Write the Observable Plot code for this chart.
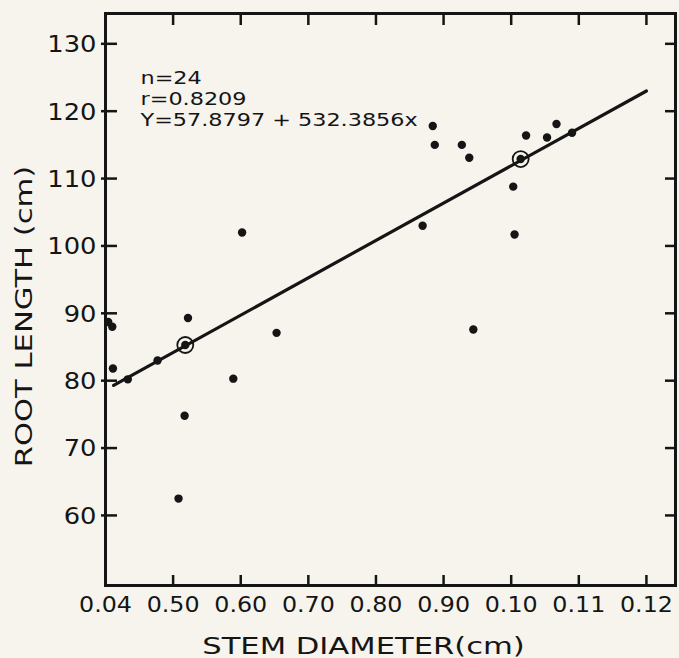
<!DOCTYPE html>
<html>
<head>
<meta charset="utf-8">
<script src="https://cdn.jsdelivr.net/npm/d3@7"></script>
<script src="https://cdn.jsdelivr.net/npm/@observablehq/plot@0.6"></script>
<style>
  html, body { margin: 0; padding: 0; background: #f6f4ed; }
  #chart svg { display: block; }
</style>
</head>
<body>
<div id="chart"></div>
<script>
// Stem diameter (cm) vs root length (cm)
const stemDiameter = [0.0404, 0.0410, 0.0411, 0.0433, 0.0477, 0.0517, 0.0508, 0.0522, 0.0589, 0.0602, 0.0653,
  0.0869, 0.0884, 0.0887, 0.0927, 0.0938, 0.0944, 0.1003, 0.1005, 0.1022, 0.1053, 0.1067, 0.1090];
const rootLength = [88.7, 88.0, 81.8, 80.2, 83.0, 74.8, 62.5, 89.3, 80.3, 102.0, 87.1,
  103.0, 117.8, 115.0, 115.0, 113.1, 87.6, 108.8, 101.7, 116.4, 116.1, 118.1, 116.8];
// circled points (on the regression line)
const circledDiameter = [0.0518, 0.1014];
const circledLength = [85.3, 112.9];
// regression line endpoints as drawn
const lineDiameter = [0.0412, 0.1200];
const lineLength = [79.3, 123.0];

const xTicks = [0.04, 0.05, 0.06, 0.07, 0.08, 0.09, 0.10, 0.11, 0.12];
const xTickLabels = ["0.04", "0.50", "0.60", "0.70", "0.80", "0.90", "0.10", "0.11", "0.12"];
const yTicks = [60, 70, 80, 90, 100, 110, 120, 130];
const statsText = ["n=24", "r=0.8209", "Y=57.8797 + 532.3856x"];
const xTitle = "STEM DIAMETER(cm)";
const yTitle = "ROOT LENGTH (cm)";

const points = stemDiameter.map((d, i) => ({x: d, y: rootLength[i]}));
const circled = circledDiameter.map((d, i) => ({x: d, y: circledLength[i]}));
const reg = lineDiameter.map((d, i) => ({x: d, y: lineLength[i]}));

const W = 679, H = 658, mL = 105, mR = 4, mT = 13, mB = 73;
const innerH = H - mT - mB, innerW = W - mL - mR;
const ink = "#151515";
const font = "DejaVu Sans, sans-serif";
const innerTicks = xTicks.slice(1);

const statMarks = statsText.map((s, i) => Plot.text([s], {frameAnchor: "top-left", dx: 35, dy: 58 + i * 21,
  textAnchor: "start", lineAnchor: "top", fontSize: 18, fill: ink}));

const chart = Plot.plot({
  width: W, height: H,
  marginLeft: mL, marginRight: mR, marginTop: mT, marginBottom: mB,
  x: {domain: [0.04, 0.1243], axis: null},
  y: {domain: [49.6, 134.5], axis: null},
  style: {background: "#f6f4ed", fontFamily: font, color: ink},
  marks: [
    Plot.frame({stroke: ink, strokeWidth: 3}),
    // bottom ticks
    Plot.ruleX(innerTicks, {x: d => d, insetTop: innerH - 10, stroke: ink, strokeWidth: 2.5}),
    // top ticks
    Plot.ruleX(innerTicks, {x: d => d, insetBottom: innerH - 12, stroke: ink, strokeWidth: 2.5}),
    // left ticks
    Plot.ruleY(yTicks, {y: d => d, insetLeft: -4, insetRight: innerW - 12, stroke: ink, strokeWidth: 2.5}),
    // right ticks
    Plot.ruleY(yTicks, {y: d => d, insetLeft: innerW - 10, stroke: ink, strokeWidth: 2.5}),
    // x tick labels
    Plot.text(xTicks, {x: d => d, text: (d, i) => xTickLabels[i], frameAnchor: "bottom", dy: 19,
      textAnchor: "middle", lineAnchor: "middle", fontSize: 22, fill: ink}),
    // y tick labels
    Plot.text(yTicks, {y: d => d, text: d => String(d), frameAnchor: "left", dx: -9, dy: 1,
      textAnchor: "end", lineAnchor: "middle", fontSize: 23, fill: ink}),
    // axis titles
    Plot.text([xTitle], {frameAnchor: "bottom", dx: -27, dy: 61, textAnchor: "middle",
      lineAnchor: "middle", fontSize: 23, fill: ink}),
    Plot.text([yTitle], {frameAnchor: "left", dx: -81, dy: 17, rotate: -90, textAnchor: "middle",
      lineAnchor: "middle", fontSize: 23, fill: ink}),
    // stats annotation
    ...statMarks,
    // regression line
    Plot.line(reg, {x: "x", y: "y", stroke: ink, strokeWidth: 3.2}),
    // data points
    Plot.dot(points, {x: "x", y: "y", r: 4.2, fill: ink}),
    Plot.dot(circled, {x: "x", y: "y", r: 4.2, fill: ink}),
    Plot.dot(circled, {x: "x", y: "y", r: 8, fill: "none", stroke: ink, strokeWidth: 1.8})
  ]
});
document.getElementById("chart").appendChild(chart);

// widen the lettering to match the wide typeface of the original
const stretchFactor = new Map();
yTicks.forEach(t => stretchFactor.set(String(t), 1.12));
xTickLabels.forEach(t => stretchFactor.set(t, 1.08));
stretchFactor.set(xTitle, 1.33);
stretchFactor.set(yTitle, 1.33);
statsText.forEach(t => stretchFactor.set(t, 1.24));
d3.select(chart).selectAll("text").each(function() {
  const f = stretchFactor.get(this.textContent);
  if (!f) return;
  const w = this.getComputedTextLength();
  this.setAttribute("textLength", (w * f).toFixed(1));
  this.setAttribute("lengthAdjust", "spacingAndGlyphs");
});
</script>
</body>
</html>
